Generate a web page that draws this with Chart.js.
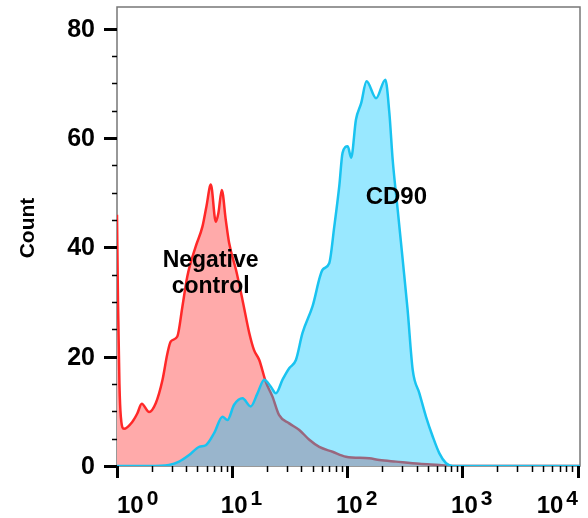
<!DOCTYPE html>
<html>
  <head>
    <meta charset="utf-8" />
    <title>CD90 histogram</title>
    <script src="https://cdn.jsdelivr.net/npm/chart.js"></script>
    <style>
      html,
      body {
        margin: 0;
        padding: 0;
        background: #fff;
      }
      #wrap {
        width: 588px;
        height: 518px;
      }
    </style>
  </head>
  <body>
    <div id="wrap"><canvas id="histo" width="588" height="518"></canvas></div>

    <script type="text/javascript">
      // ---------------------------------------------
      // values (fluorescence channel, count)
      var negX = [1.0, 1.02, 1.05, 1.08, 1.15, 1.36, 1.5, 1.64, 1.9, 2.17, 2.48, 2.74, 2.93, 3.34, 3.7, 4.08,
        4.83, 5.52, 5.98, 6.53, 7.21, 7.6, 8.13, 8.81, 9.42, 10.8, 12.3, 14.1, 15.5, 17.2, 19.6, 22.4,
        25.6, 31.3, 38.3, 46.8, 57.1, 74.5, 97.4, 155, 190, 265, 423, 631, 851, 10500];
      var negY = [46, 30, 15, 9, 6.8, 8.1, 9.6, 11.4, 9.9, 11.5, 15.7, 20.6, 22.8, 23.7, 29.2, 34.7,
        40.2, 43.8, 47.5, 51.5, 44.7, 46.3, 50.5, 45, 40.8, 35.9, 30.4, 24.3, 21.2, 19.4, 15.4, 12.7,
        9.3, 7.8, 6.6, 4.8, 3.5, 2.6, 1.7, 1.4, 1.1, 0.8, 0.4, 0.2, 0, 0];

      var cdX = [1.0, 1.9, 2.83, 3.46, 4.23, 5.17, 5.91, 6.97, 8.24, 9.1, 10.4, 12.3, 14.5, 16.6, 19.0,
        21.7, 24.0, 27.4, 31.3, 35.8, 40.8, 49.9, 61.0, 69.7, 77.1, 85.2, 91.0, 101, 108, 119, 132,
        147, 178, 214, 232, 248, 274, 303, 334, 370, 423, 483, 552, 631, 721, 824, 10500];
      var cdY = [0, 0, 0.2, 0.8, 2.0, 3.5, 3.8, 6.0, 9.0, 8.4, 11.2, 12.4, 10.9, 13.3, 15.8,
        14.5, 13.3, 15.8, 17.9, 19.4, 24.3, 29.2, 35.9, 37.1, 43.8, 51.2, 57.3, 58.5, 56.4, 63.4, 66.4,
        70.4, 67.3, 70.7, 64.6, 56.0, 46.9, 37.7, 28.6, 17.6, 13.3, 9.0, 5.4, 2.3, 0.5, 0, 0];

      var yTicks = [0, 20, 40, 60, 80];
      var xDecades = [0, 1, 2, 3, 4];
      var seriesNames = ["Negative\ncontrol", "CD90"];

      var FONT = '"Liberation Sans", Arial, sans-serif';

      function pts(xs, ys) {
        return xs.map(function (v, i) {
          return { x: v, y: ys[i] };
        });
      }

      // frame + ticks + labels, all placed through the chart scales
      const axesPlugin = {
        id: "flowAxes",
        beforeDatasetsDraw(chart) {
          const { ctx, chartArea: a } = chart;
          ctx.save();
          ctx.strokeStyle = "#777";
          ctx.lineWidth = 1.5;
          ctx.strokeRect(a.left, a.top, a.right - a.left, a.bottom - a.top);
          ctx.restore();
        },
        afterDraw(chart) {
          const { ctx, chartArea: a, scales } = chart;
          const x = scales.x,
            y = scales.y;
          ctx.save();
          ctx.strokeStyle = "#000";
          ctx.fillStyle = "#000";

          // y ticks
          for (let v = 0; v <= 80; v += 5) {
            const py = Math.round(y.getPixelForValue(v)) + 0.5;
            const major = v % 20 === 0;
            ctx.lineWidth = major ? 3 : 1.5;
            ctx.beginPath();
            ctx.moveTo(a.left - (major ? 13 : 5), py);
            ctx.lineTo(a.left, py);
            ctx.stroke();
          }
          ctx.font = "bold 25px " + FONT;
          ctx.textAlign = "right";
          ctx.textBaseline = "middle";
          yTicks.forEach(function (v) {
            ctx.fillText(String(v), 95, y.getPixelForValue(v) + 1);
          });

          // x ticks (log decades with 2..9 minors)
          for (let d = 0; d <= 4; d++) {
            for (let m = 1; m <= 9; m++) {
              const val = m * Math.pow(10, d);
              if (val > x.max) break;
              const px = Math.round(x.getPixelForValue(val)) + 0.5;
              const major = m === 1;
              ctx.lineWidth = major ? 3 : 1.5;
              ctx.beginPath();
              ctx.moveTo(px, a.bottom);
              ctx.lineTo(px, a.bottom + (major ? 12 : 6));
              ctx.stroke();
            }
          }

          // x labels: 10 with raised exponent
          ctx.textBaseline = "alphabetic";
          ctx.textAlign = "left";
          xDecades.forEach(function (d) {
            const px = x.getPixelForValue(Math.pow(10, d));
            ctx.font = "bold 24px " + FONT;
            const wBase = ctx.measureText("10").width;
            ctx.font = "bold 21px " + FONT;
            const wExp = ctx.measureText(String(d)).width;
            const total = wBase + 3 + wExp;
            let left = px + 2 - wBase / 2;
            if (left < a.left) left = a.left;
            if (left + total > a.right - 2) left = a.right - 2 - total;
            ctx.font = "bold 24px " + FONT;
            ctx.fillText("10", left, 513);
            ctx.font = "bold 21px " + FONT;
            ctx.fillText(String(d), left + wBase + 3, 505);
          });

          // y title
          ctx.save();
          ctx.translate(34, 228);
          ctx.rotate(-Math.PI / 2);
          ctx.font = "bold 21px " + FONT;
          ctx.textAlign = "center";
          ctx.textBaseline = "alphabetic";
          ctx.fillText("Count", 0, 0);
          ctx.restore();

          // in-plot labels
          ctx.font = "bold 23px " + FONT;
          ctx.textAlign = "center";
          ctx.textBaseline = "alphabetic";
          const neg = seriesNames[0].split("\n");
          const nx = x.getPixelForValue(6.5);
          ctx.fillText(neg[0], nx, 267);
          ctx.fillText(neg[1], nx, 293);
          ctx.font = "bold 24px " + FONT;
          ctx.fillText(seriesNames[1], x.getPixelForValue(267), 204);
          ctx.restore();
        },
      };

      var chart = new Chart(document.getElementById("histo"), {
        type: "line",
        data: {
          datasets: [
            {
              label: "CD90",
              data: pts(cdX, cdY),
              order: 1,
              borderColor: "rgb(25,195,240)",
              backgroundColor: "rgba(0,197,255,0.4)",
              borderWidth: 2.5,
              fill: "origin",
              pointRadius: 0,
              cubicInterpolationMode: "monotone",
            },
            {
              label: "Negative control",
              data: pts(negX, negY),
              order: 2,
              borderColor: "rgb(255,40,40)",
              backgroundColor: "#ffaaaa",
              borderWidth: 2.5,
              fill: "origin",
              pointRadius: 0,
              cubicInterpolationMode: "monotone",
            },
          ],
        },
        options: {
          responsive: false,
          animation: false,
          layout: { padding: { left: 117, right: 8, top: 7, bottom: 52 } },
          plugins: { legend: { display: false }, tooltip: { enabled: false } },
          scales: {
            x: { type: "logarithmic", min: 1, max: 10500, display: false },
            y: { type: "linear", min: 0, max: 84, display: false },
          },
        },
        plugins: [axesPlugin],
      });
    </script>
  </body>
</html>
